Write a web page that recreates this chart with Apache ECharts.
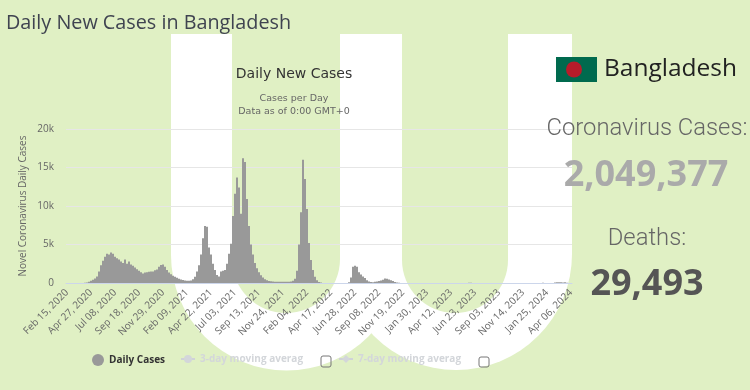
<!DOCTYPE html>
<html>
<head>
<meta charset="utf-8">
<style>html,body{margin:0;padding:0;background:#e0f0c4}#c{width:750px;height:390px}</style>
<script src="https://cdn.jsdelivr.net/npm/echarts@6/dist/echarts.min.js"></script>
</head>
<body>
<div id="c"></div>
<script>
const tickLabels = ['Feb 15, 2020','Apr 27, 2020','Jul 08, 2020','Sep 18, 2020','Nov 29, 2020','Feb 09, 2021','Apr 22, 2021','Jul 03, 2021','Sep 13, 2021','Nov 24, 2021','Feb 04, 2022','Apr 17, 2022','Jun 28, 2022','Sep 08, 2022','Nov 19, 2022','Jan 30, 2023','Apr 12, 2023','Jun 23, 2023','Sep 03, 2023','Nov 14, 2023','Jan 25, 2024','Apr 06, 2024'];
const samplesPerTick = 12;
const dailyCases = [
0,0,0,0,0,0,0,0,5,40,80,150,280,420,600,850,1500,2300,2900,3400,
3800,3700,3950,3800,3400,3200,3050,2800,2600,3050,2500,2800,2400,2250,2000,1800,1600,1400,1250,1350,
1400,1450,1500,1500,1650,1750,2100,2350,2400,2100,1700,1350,1150,950,800,680,560,450,380,330,
300,290,320,480,800,1500,2300,3700,5800,7400,7300,4600,3700,2500,1700,1050,850,1500,1600,1700,
2500,3800,5100,8700,11600,13700,12400,9000,16200,15700,10900,7400,5000,3700,2600,1900,1400,1000,700,500,
350,250,220,180,160,160,150,150,170,150,170,160,190,300,550,1600,5000,9200,16000,13500,
9600,5200,3000,1700,800,350,120,50,0,0,0,0,0,0,0,0,0,0,0,0,
0,100,700,2100,2250,2100,1400,1100,850,650,350,200,130,100,150,200,260,330,430,600,
550,450,350,250,120,50,30,0,0,0,0,0,0,0,0,0,0,0,0,0,
0,0,0,0,0,0,0,0,0,0,0,0,0,0,0,0,0,0,0,0,
0,30,30,0,0,0,0,0,0,0,0,0,0,0,0,0,0,0,0,0,
0,0,0,0,0,0,0,0,0,0,0,0,0,0,0,0,0,0,40,0,
0,0,0,0,80,100,90,110,60,90,40,0,0];
const threeDayAverage = [];
const sevenDayAverage = [];
const yTicks = [0,5000,10000,15000,20000];
const categories = dailyCases.map((v,i)=> i % samplesPerTick === 0 ? tickLabels[i/samplesPerTick] : 'sample ' + i);

const white = '#ffffff', green = '#e0f0c4';
function uShape(l, r, top, cy, fill, z) {
  return [
    {type:'rect',z,silent:true,shape:{x:l,y:top,width:r-l,height:cy-top},style:{fill}},
    {type:'circle',z,silent:true,shape:{cx:(l+r)/2,cy,r:(r-l)/2},style:{fill}}
  ];
}
const chart = echarts.init(document.getElementById('c'), null, {renderer:'canvas'});
const lgFont = {fontFamily:'"Open Sans"', fontSize:10, fontWeight:'bold', color:'#333'};
const T = (text,left,top,font,size,weight,color,center) => ({text,left,top,padding:0,textAlign:center?'center':'left',textStyle:{fontFamily:font,fontSize:size,fontWeight:weight,color}});
chart.setOption({
  animation:false,
  backgroundColor:green,
  textStyle:{fontFamily:'"Open Sans"'},
  title:[
    T('Daily New Cases in Bangladesh',6,13,'"Open Sans"',19.8,'normal','#3f4350'),
    T('Daily New Cases',294,67,'"DejaVu Sans"',14,'normal','#333',true),
    T('Cases per Day',294,94,'"DejaVu Sans"',9.5,'normal','#666',true),
    T('Data as of 0:00 GMT+0',294,107,'"DejaVu Sans"',9.5,'normal','#666',true),
    T('Bangladesh',604,57,'"Open Sans"',24.5,'normal','#222'),
    T('Coronavirus Cases:',647,117,'Roboto',23.8,300,'#666',true),
    T('2,049,377',646,158,'"Open Sans"',36,'bold','#aaaaaa',true),
    T('Deaths:',647,227,'Roboto',23.8,300,'#666',true),
    T('29,493',647,267,'"Open Sans"',36,'bold','#555',true)
  ],
  legend:[
    {data:[{name:'Daily Cases',icon:'circle'}],left:92,top:354,itemWidth:12,itemHeight:12,itemGap:4,padding:0,textStyle:lgFont},
    {data:['3-day moving average'],selected:{'3-day moving average':false},left:180,top:354,padding:0,itemWidth:14,itemHeight:10,inactiveColor:'#d3d6da',textStyle:{...lgFont,width:108,overflow:'truncate',ellipsis:''}},
    {data:['7-day moving average'],selected:{'7-day moving average':false},left:338,top:354,padding:0,itemWidth:14,itemHeight:10,inactiveColor:'#d3d6da',textStyle:{...lgFont,width:108,overflow:'truncate',ellipsis:''}}
  ],
  grid:{left:66,width:506,top:129,height:154,containLabel:false},
  xAxis:{
    type:'category',data:categories,boundaryGap:true,
    axisTick:{show:false},
    axisLine:{lineStyle:{color:'#ccd6eb',width:1}},
    axisLabel:{interval:(i)=>i%samplesPerTick===0,rotate:45,fontSize:10,color:'#666',margin:8,hideOverlap:false,formatter:v=>v}
  },
  yAxis:{
    type:'value',min:yTicks[0],max:yTicks[yTicks.length-1],interval:5000,
    name:'Novel Coronavirus Daily Cases',nameLocation:'middle',nameGap:43,nameMoveOverlap:false,
    nameTextStyle:{fontSize:10,color:'#666',verticalAlign:'middle'},
    axisLabel:{fontSize:10,color:'#666',margin:12,formatter:v=>v===0?'0':(v/1000)+'k'},
    axisLine:{show:false},axisTick:{show:false},
    splitLine:{lineStyle:{color:'#e6e6e6',width:1}}
  },
  series:[
    {name:'Daily Cases',type:'bar',data:dailyCases,barWidth:'100%',barCategoryGap:0,itemStyle:{color:'#999999'},z:3},
    {name:'3-day moving average',type:'line',data:threeDayAverage,symbol:'circle',symbolSize:6,itemStyle:{color:'#999'},lineStyle:{color:'#999'}},
    {name:'7-day moving average',type:'line',data:sevenDayAverage,symbol:'diamond',symbolSize:6,itemStyle:{color:'#999'},lineStyle:{color:'#999'}}
  ],
  graphic:[
    ...uShape(171,402,34,255,white,-10),
    ...uShape(340,572,34,254,white,-10),
    ...uShape(232,340,34,259,green,-9),
    ...uShape(402,508,34,260,green,-9),
    {type:'rect',z:5,silent:true,shape:{x:321,y:356,width:10,height:11,r:2},style:{fill:'none',stroke:'#777',lineWidth:1}},
    {type:'rect',z:5,silent:true,shape:{x:479,y:357,width:10,height:10,r:2},style:{fill:'none',stroke:'#777',lineWidth:1}},
    {type:'rect',z:5,silent:true,shape:{x:556,y:57,width:41,height:25},style:{fill:'#006a4e'}},
    {type:'circle',z:6,silent:true,shape:{cx:574,cy:69.5,r:8},style:{fill:'#b71c2a'}}
  ]
});
</script>
</body>
</html>
